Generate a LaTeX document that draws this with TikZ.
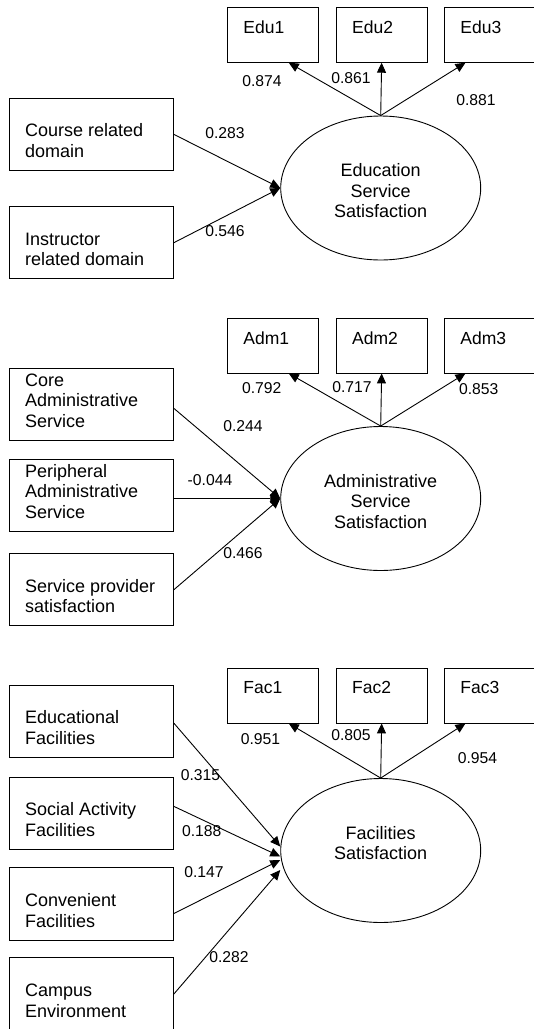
\documentclass[tikz,border=0pt]{standalone}
\usepackage{fontspec}
\setmainfont{Liberation Sans}
\usetikzlibrary{arrows.meta,shapes.geometric}

\newcommand\lefttext[1]{\parbox[c][46.3pt][b]{133pt}{#1}}
\newcommand\toptext[1]{\parbox[c][28pt][t]{59pt}{#1}}
\newcommand\midtext[1]{\parbox[c][49pt][t]{120pt}{\centering #1}}

\begin{document}
\begin{tikzpicture}[x=1pt,y=-1pt,>={Triangle[length=10pt,width=9pt]},line width=0.9pt,
  cause/.style={shape=rectangle,draw,anchor=north west,minimum width=163.7pt,minimum height=72.3pt,
    inner xsep=15.35pt,inner ysep=13pt,font=\fontsize{18pt}{20.7pt}\selectfont},
  indic/.style={shape=rectangle,draw,anchor=north west,minimum width=91pt,minimum height=54.8pt,
    inner xsep=16pt,inner ysep=13.4pt,font=\fontsize{17.5pt}{20pt}\selectfont},
  factor/.style={shape=ellipse,draw,minimum width=200pt,minimum height=144pt,inner sep=0pt,
    font=\fontsize{18pt}{20.7pt}\selectfont},
  coef/.style={inner sep=0pt,font=\fontsize{15.7pt}{18pt}\selectfont}]
\useasboundingbox (0,0) rectangle (534,1029);

% education
\node     (e1) at (227,   7) [indic] {\toptext{Edu1}};
\node     (e2) at (335.7, 7) [indic] {\toptext{Edu2}};
\node     (e3) at (444,   7) [indic,inner xsep=15.25pt] {\toptext{Edu3}};
\node (course) at (9.3, 97.7) [cause] {\lefttext{Course related\\domain}};
\node  (instr) at (9.3, 206)  [cause] {\lefttext{Instructor\\related domain}};
\node    (ess) at (380.7, 188) [factor] {\midtext{Education\\Service\\Satisfaction}};
\draw [->] (course.east) -- (ess.west);
\draw [->]  (instr.east) -- (ess.west);
\draw [->] (ess.north) -- ([xshift=15.8pt]e1.south);
\draw [->] (ess.north) -- (e2.south);
\draw [->] (ess.north) -- ([xshift=-24.5pt]e3.south);
\node (c874) at (262, 80.7) [coef] {0.874};
\node (c861) at (351, 78.3) [coef] {0.861};
\node (c881) at (476, 99.8) [coef] {0.881};
\node (c283) at (225, 133)  [coef] {0.283};
\node (c546) at (225, 231)  [coef] {0.546};

% administrative
\node     (a1) at (227,   317.7) [indic] {\toptext{Adm1}};
\node     (a2) at (335.7, 317.7) [indic] {\toptext{Adm2}};
\node     (a3) at (444,   317.7) [indic,inner xsep=15.25pt] {\toptext{Adm3}};
\node   (core) at (9.3, 367.7) [cause] {\lefttext{Core\\Administrative\\Service}};
\node (periph) at (9.3, 458.7) [cause] {\lefttext{Peripheral\\Administrative\\Service}};
\node   (prov) at (9.3, 553)   [cause] {\lefttext{Service provider\\satisfaction}};
\node    (ass) at (380.7, 498.5) [factor] {\midtext{Administrative\\Service\\Satisfaction}};
\draw [->] ([yshift=-4pt]core.east) -- (ass.west);
\draw [->] (ass.west -| periph.east) -- (ass.west);
\draw [->] (prov.east) -- (ass.west);
\draw [->] (ass.north) -- ([xshift=15.8pt]a1.south);
\draw [->] (ass.north) -- (a2.south);
\draw [->] (ass.north) -- ([xshift=-24.5pt]a3.south);
\node (c792) at (261.7, 388)   [coef] {0.792};
\node (c717) at (352,   387)   [coef] {0.717};
\node (c853) at (478.7, 389)   [coef] {0.853};
\node (c244) at (243,   425.7) [coef] {0.244};
\node (c044) at (210,   480)   [coef] {-0.044};
\node (c466) at (243,   552.7) [coef] {0.466};

% facilities
\node     (f1) at (227,   667.7) [indic] {\toptext{Fac1}};
\node     (f2) at (335.7, 667.7) [indic] {\toptext{Fac2}};
\node     (f3) at (444,   667.7) [indic,inner xsep=15.25pt] {\toptext{Fac3}};
\node  (edfac) at (9.3, 684.5) [cause] {\lefttext{Educational\\Facilities}};
\node (social) at (9.3, 776.7) [cause] {\lefttext{Social Activity\\Facilities}};
\node   (conv) at (9.3, 867.3) [cause] {\lefttext{Convenient\\Facilities}};
\node (campus) at (9.3, 957.3) [cause] {\lefttext{Campus\\Environment}};
\node     (fs) at (380.7, 850.5) [factor] {\midtext{Facilities\\Satisfaction}};
\draw [->] ([yshift=-2pt]edfac.east) -- ([yshift=4pt]fs.west);
\draw [->] ([yshift=7pt]social.east) -- ([yshift=-6pt]fs.west);
\draw [->] ([yshift=-9.5pt]conv.east) -- ([yshift=-9.5pt]fs.west);
\draw [->] (campus.east) -- ([yshift=-19.5pt]fs.west);
\draw [->] (fs.north) -- ([xshift=15.8pt]f1.south);
\draw [->] (fs.north) -- (f2.south);
\draw [->] (fs.north) -- ([xshift=-24.5pt]f3.south);
\node (c951) at (260.5, 738.7) [coef] {0.951};
\node (c805) at (351,   735)   [coef] {0.805};
\node (c954) at (477.5, 758.5) [coef] {0.954};
\node (c315) at (200.5, 775)   [coef] {0.315};
\node (c188) at (201.7, 831)   [coef] {0.188};
\node (c147) at (204,   871.7) [coef] {0.147};
\node (c282) at (229,   956.7) [coef] {0.282};
\end{tikzpicture}
\end{document}
